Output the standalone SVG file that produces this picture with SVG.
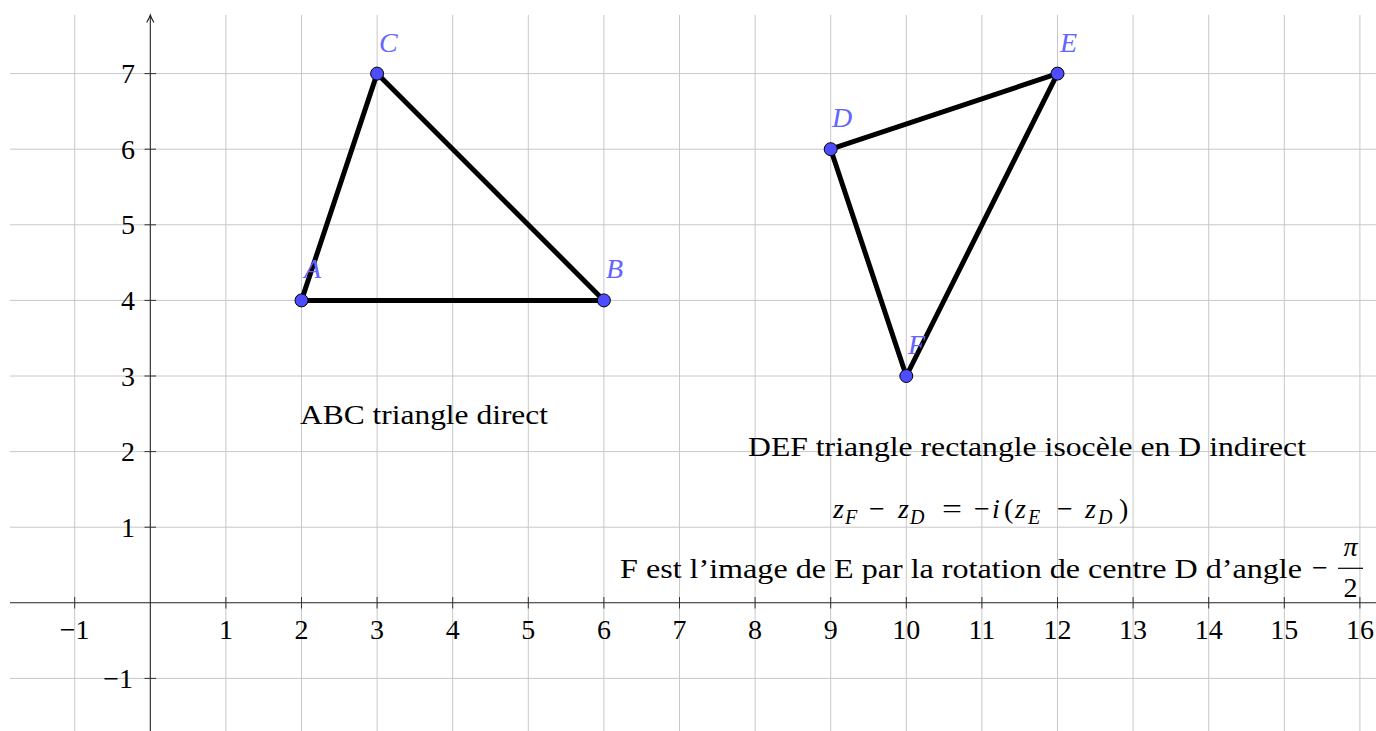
<svg xmlns="http://www.w3.org/2000/svg" width="1376" height="731" viewBox="0 0 1376 731">
<style>
.grid line{stroke:#c8c8c8;stroke-width:1}
.axis{stroke:#222;stroke-width:1.1;fill:none}
.tick{stroke:#333;stroke-width:1}
.num{font-family:"Liberation Serif","DejaVu Serif",serif;font-size:28px;fill:#000}
.seg{stroke:#000;stroke-width:5;stroke-linecap:round}
.pt{fill:#4d4dff;stroke:#000;stroke-width:1}
.lbl{font-family:"Liberation Serif","DejaVu Serif",serif;font-style:italic;font-size:28px;fill:#6464ff}
.txt{font-family:"Liberation Serif","DejaVu Serif",serif;font-size:28px;fill:#000}
.mi{font-family:"Liberation Serif","DejaVu Serif",serif;font-style:italic;font-size:28px;fill:#000}
.sub{font-family:"Liberation Serif","DejaVu Serif",serif;font-style:italic;font-size:20px;fill:#000}
</style>
<rect width="1376" height="731" fill="#fff"/>
<g id="grid" class="grid">
<line x1="74.7" y1="15" x2="74.7" y2="731"/>
<line x1="225.9" y1="15" x2="225.9" y2="731"/>
<line x1="301.5" y1="15" x2="301.5" y2="731"/>
<line x1="377.1" y1="15" x2="377.1" y2="731"/>
<line x1="452.7" y1="15" x2="452.7" y2="731"/>
<line x1="528.3" y1="15" x2="528.3" y2="731"/>
<line x1="603.9" y1="15" x2="603.9" y2="731"/>
<line x1="679.5" y1="15" x2="679.5" y2="731"/>
<line x1="755.1" y1="15" x2="755.1" y2="731"/>
<line x1="830.7" y1="15" x2="830.7" y2="731"/>
<line x1="906.3" y1="15" x2="906.3" y2="731"/>
<line x1="981.9" y1="15" x2="981.9" y2="731"/>
<line x1="1057.5" y1="15" x2="1057.5" y2="731"/>
<line x1="1133.1" y1="15" x2="1133.1" y2="731"/>
<line x1="1208.7" y1="15" x2="1208.7" y2="731"/>
<line x1="1284.3" y1="15" x2="1284.3" y2="731"/>
<line x1="1359.9" y1="15" x2="1359.9" y2="731"/>
<line x1="10" y1="678.4" x2="1376" y2="678.4"/>
<line x1="10" y1="527.2" x2="1376" y2="527.2"/>
<line x1="10" y1="451.6" x2="1376" y2="451.6"/>
<line x1="10" y1="376" x2="1376" y2="376"/>
<line x1="10" y1="300.4" x2="1376" y2="300.4"/>
<line x1="10" y1="224.8" x2="1376" y2="224.8"/>
<line x1="10" y1="149.2" x2="1376" y2="149.2"/>
<line x1="10" y1="73.6" x2="1376" y2="73.6"/>
</g>
<g id="axes">
<line class="axis" x1="10" y1="602.8" x2="1376" y2="602.8"/>
<line class="axis" x1="150.3" y1="731" x2="150.3" y2="16" stroke="#000"/>
<path class="axis" d="M146.6,22.5 Q149.2,18.5 150.3,15 Q151.4,18.5 154,22.5" stroke="#000"/>
<g class="tick">
<line x1="74.7" y1="597" x2="74.7" y2="608.5"/>
<line x1="225.9" y1="597" x2="225.9" y2="608.5"/>
<line x1="301.5" y1="597" x2="301.5" y2="608.5"/>
<line x1="377.1" y1="597" x2="377.1" y2="608.5"/>
<line x1="452.7" y1="597" x2="452.7" y2="608.5"/>
<line x1="528.3" y1="597" x2="528.3" y2="608.5"/>
<line x1="603.9" y1="597" x2="603.9" y2="608.5"/>
<line x1="679.5" y1="597" x2="679.5" y2="608.5"/>
<line x1="755.1" y1="597" x2="755.1" y2="608.5"/>
<line x1="830.7" y1="597" x2="830.7" y2="608.5"/>
<line x1="906.3" y1="597" x2="906.3" y2="608.5"/>
<line x1="981.9" y1="597" x2="981.9" y2="608.5"/>
<line x1="1057.5" y1="597" x2="1057.5" y2="608.5"/>
<line x1="1133.1" y1="597" x2="1133.1" y2="608.5"/>
<line x1="1208.7" y1="597" x2="1208.7" y2="608.5"/>
<line x1="1284.3" y1="597" x2="1284.3" y2="608.5"/>
<line x1="1359.9" y1="597" x2="1359.9" y2="608.5"/>
<line x1="144.5" y1="678.4" x2="156" y2="678.4"/>
<line x1="144.5" y1="527.2" x2="156" y2="527.2"/>
<line x1="144.5" y1="451.6" x2="156" y2="451.6"/>
<line x1="144.5" y1="376" x2="156" y2="376"/>
<line x1="144.5" y1="300.4" x2="156" y2="300.4"/>
<line x1="144.5" y1="224.8" x2="156" y2="224.8"/>
<line x1="144.5" y1="149.2" x2="156" y2="149.2"/>
<line x1="144.5" y1="73.6" x2="156" y2="73.6"/>
</g>
<g class="num" text-anchor="middle">
<text x="74.7" y="638.5">−1</text>
<text x="225.9" y="638.5">1</text>
<text x="301.5" y="638.5">2</text>
<text x="377.1" y="638.5">3</text>
<text x="452.7" y="638.5">4</text>
<text x="528.3" y="638.5">5</text>
<text x="603.9" y="638.5">6</text>
<text x="679.5" y="638.5">7</text>
<text x="755.1" y="638.5">8</text>
<text x="830.7" y="638.5">9</text>
<text x="906.3" y="638.5">10</text>
<text x="981.9" y="638.5">11</text>
<text x="1057.5" y="638.5">12</text>
<text x="1133.1" y="638.5">13</text>
<text x="1208.7" y="638.5">14</text>
<text x="1284.3" y="638.5">15</text>
<text x="1359.9" y="638.5">16</text>
</g>
<g class="num" text-anchor="end">
<text x="133" y="687.5">−1</text>
<text x="135" y="536.7">1</text>
<text x="135" y="461.1">2</text>
<text x="135" y="385.5">3</text>
<text x="135" y="309.9">4</text>
<text x="135" y="234.3">5</text>
<text x="135" y="158.7">6</text>
<text x="135" y="83.1">7</text>
</g>
</g>
<g id="connectors">
<line class="seg" x1="301.5" y1="300.4" x2="603.9" y2="300.4"/>
<line class="seg" x1="603.9" y1="300.4" x2="377.1" y2="73.6"/>
<line class="seg" x1="377.1" y1="73.6" x2="301.5" y2="300.4"/>
<line class="seg" x1="830.7" y1="149.2" x2="1057.5" y2="73.6"/>
<line class="seg" x1="1057.5" y1="73.6" x2="906.3" y2="376"/>
<line class="seg" x1="906.3" y1="376" x2="830.7" y2="149.2"/>
</g>
<g id="node-A"><circle class="pt" cx="301.5" cy="300.4" r="6.5"/><text class="lbl" x="304" y="278.4">A</text></g>
<g id="node-B"><circle class="pt" cx="603.9" cy="300.4" r="6.5"/><text class="lbl" x="606" y="278.4">B</text></g>
<g id="node-C"><circle class="pt" cx="377.1" cy="73.6" r="6.5"/><text class="lbl" x="379" y="51.6">C</text></g>
<g id="node-D"><circle class="pt" cx="830.7" cy="149.2" r="6.5"/><text class="lbl" x="832" y="127.2">D</text></g>
<g id="node-E"><circle class="pt" cx="1057.5" cy="73.6" r="6.5"/><text class="lbl" x="1060" y="51.6">E</text></g>
<g id="node-F"><circle class="pt" cx="906.3" cy="376" r="6.5"/><text class="lbl" x="908" y="354">F</text></g>
<g id="text-abc"><text class="txt" x="300" y="424" textLength="248" lengthAdjust="spacingAndGlyphs">ABC triangle direct</text></g>
<g id="text-def"><text class="txt" x="748" y="456" textLength="558" lengthAdjust="spacingAndGlyphs">DEF triangle rectangle isocèle en D indirect</text></g>
<g id="text-formula">
<text class="mi" x="833" y="518">z</text>
<text class="sub" x="845" y="524">F</text>
<text class="txt" x="869" y="518">−</text>
<text class="mi" x="898" y="518">z</text>
<text class="sub" x="910" y="524">D</text>
<text class="txt" x="942" y="518" textLength="20" lengthAdjust="spacingAndGlyphs">=</text>
<text class="txt" x="974" y="518">−</text>
<text class="mi" x="992" y="518">i</text>
<text class="txt" x="1004" y="518">(</text>
<text class="mi" x="1015" y="518">z</text>
<text class="sub" x="1028" y="524">E</text>
<text class="txt" x="1057" y="518">−</text>
<text class="mi" x="1085" y="518">z</text>
<text class="sub" x="1098" y="524">D</text>
<text class="txt" x="1119" y="518">)</text>
</g>
<g id="text-rotation">
<text class="txt" x="620" y="578" textLength="682" lengthAdjust="spacingAndGlyphs">F est l’image de E par la rotation de centre D d’angle</text>
<text class="txt" x="1312" y="577">−</text>
<text class="mi" x="1350.5" y="556" text-anchor="middle">π</text>
<line x1="1338" y1="568.3" x2="1363" y2="568.3" stroke="#000" stroke-width="1.2"/>
<text class="txt" x="1350.5" y="597" text-anchor="middle">2</text>
</g>
</svg>
